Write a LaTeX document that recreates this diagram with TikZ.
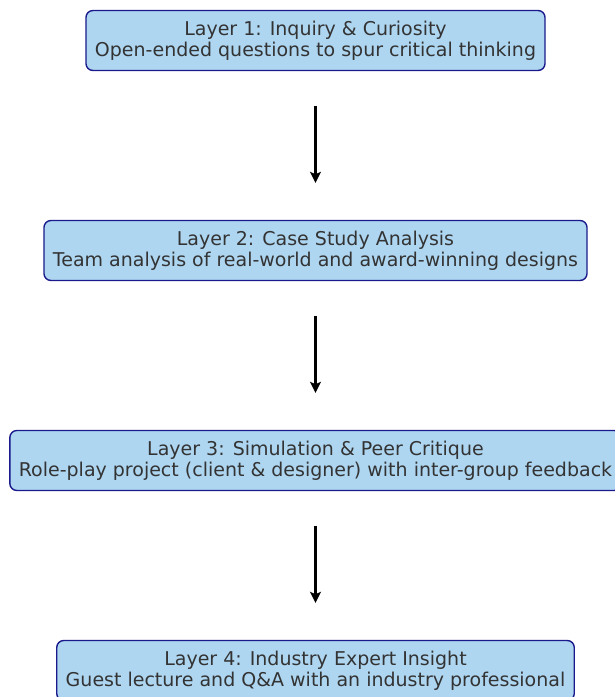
\documentclass[tikz,border=0pt]{standalone}
\usepackage{fontspec}
\setmainfont{DejaVu Sans}
\usetikzlibrary{arrows.meta}
\definecolor{boxfill}{HTML}{AED6F1}
\definecolor{boxdraw}{HTML}{1A1A8C}
\definecolor{txt}{HTML}{333333}
\tikzset{
  layerbox/.style={draw=boxdraw, fill=boxfill, line width=1.4pt, rounded corners=7pt,
    align=center, inner xsep=9pt, minimum height=60pt, text=txt,
    font=\fontsize{19}{21}\selectfont},
  flow/.style={-{Stealth[length=11pt,width=11pt,inset=2.5pt]}, line width=2.3pt, black}
}
\begin{document}
\begin{tikzpicture}[x=1pt,y=1pt]
\useasboundingbox (0,0) rectangle (614,-697);
\node[layerbox] (l1) at (315.5,-40.5) {Layer 1: Inquiry \& Curiosity\\Open-ended questions to spur critical thinking};
\node[layerbox] (l2) at (315.5,-250.5) {Layer 2: Case Study Analysis\\Team analysis of real-world and award-winning designs};
\node[layerbox] (l3) at (315.5,-460.5) {Layer 3: Simulation \& Peer Critique\\Role-play project (client \& designer) with inter-group feedback};
\node[layerbox] (l4) at (315.5,-670.5) {Layer 4: Industry Expert Insight\\Guest lecture and Q\&A with an industry professional};
\draw[flow] ([yshift=-34.5pt]l1.south) -- ([yshift=37pt]l2.north);
\draw[flow] ([yshift=-34.5pt]l2.south) -- ([yshift=37pt]l3.north);
\draw[flow] ([yshift=-34.5pt]l3.south) -- ([yshift=37pt]l4.north);
\end{tikzpicture}
\end{document}
